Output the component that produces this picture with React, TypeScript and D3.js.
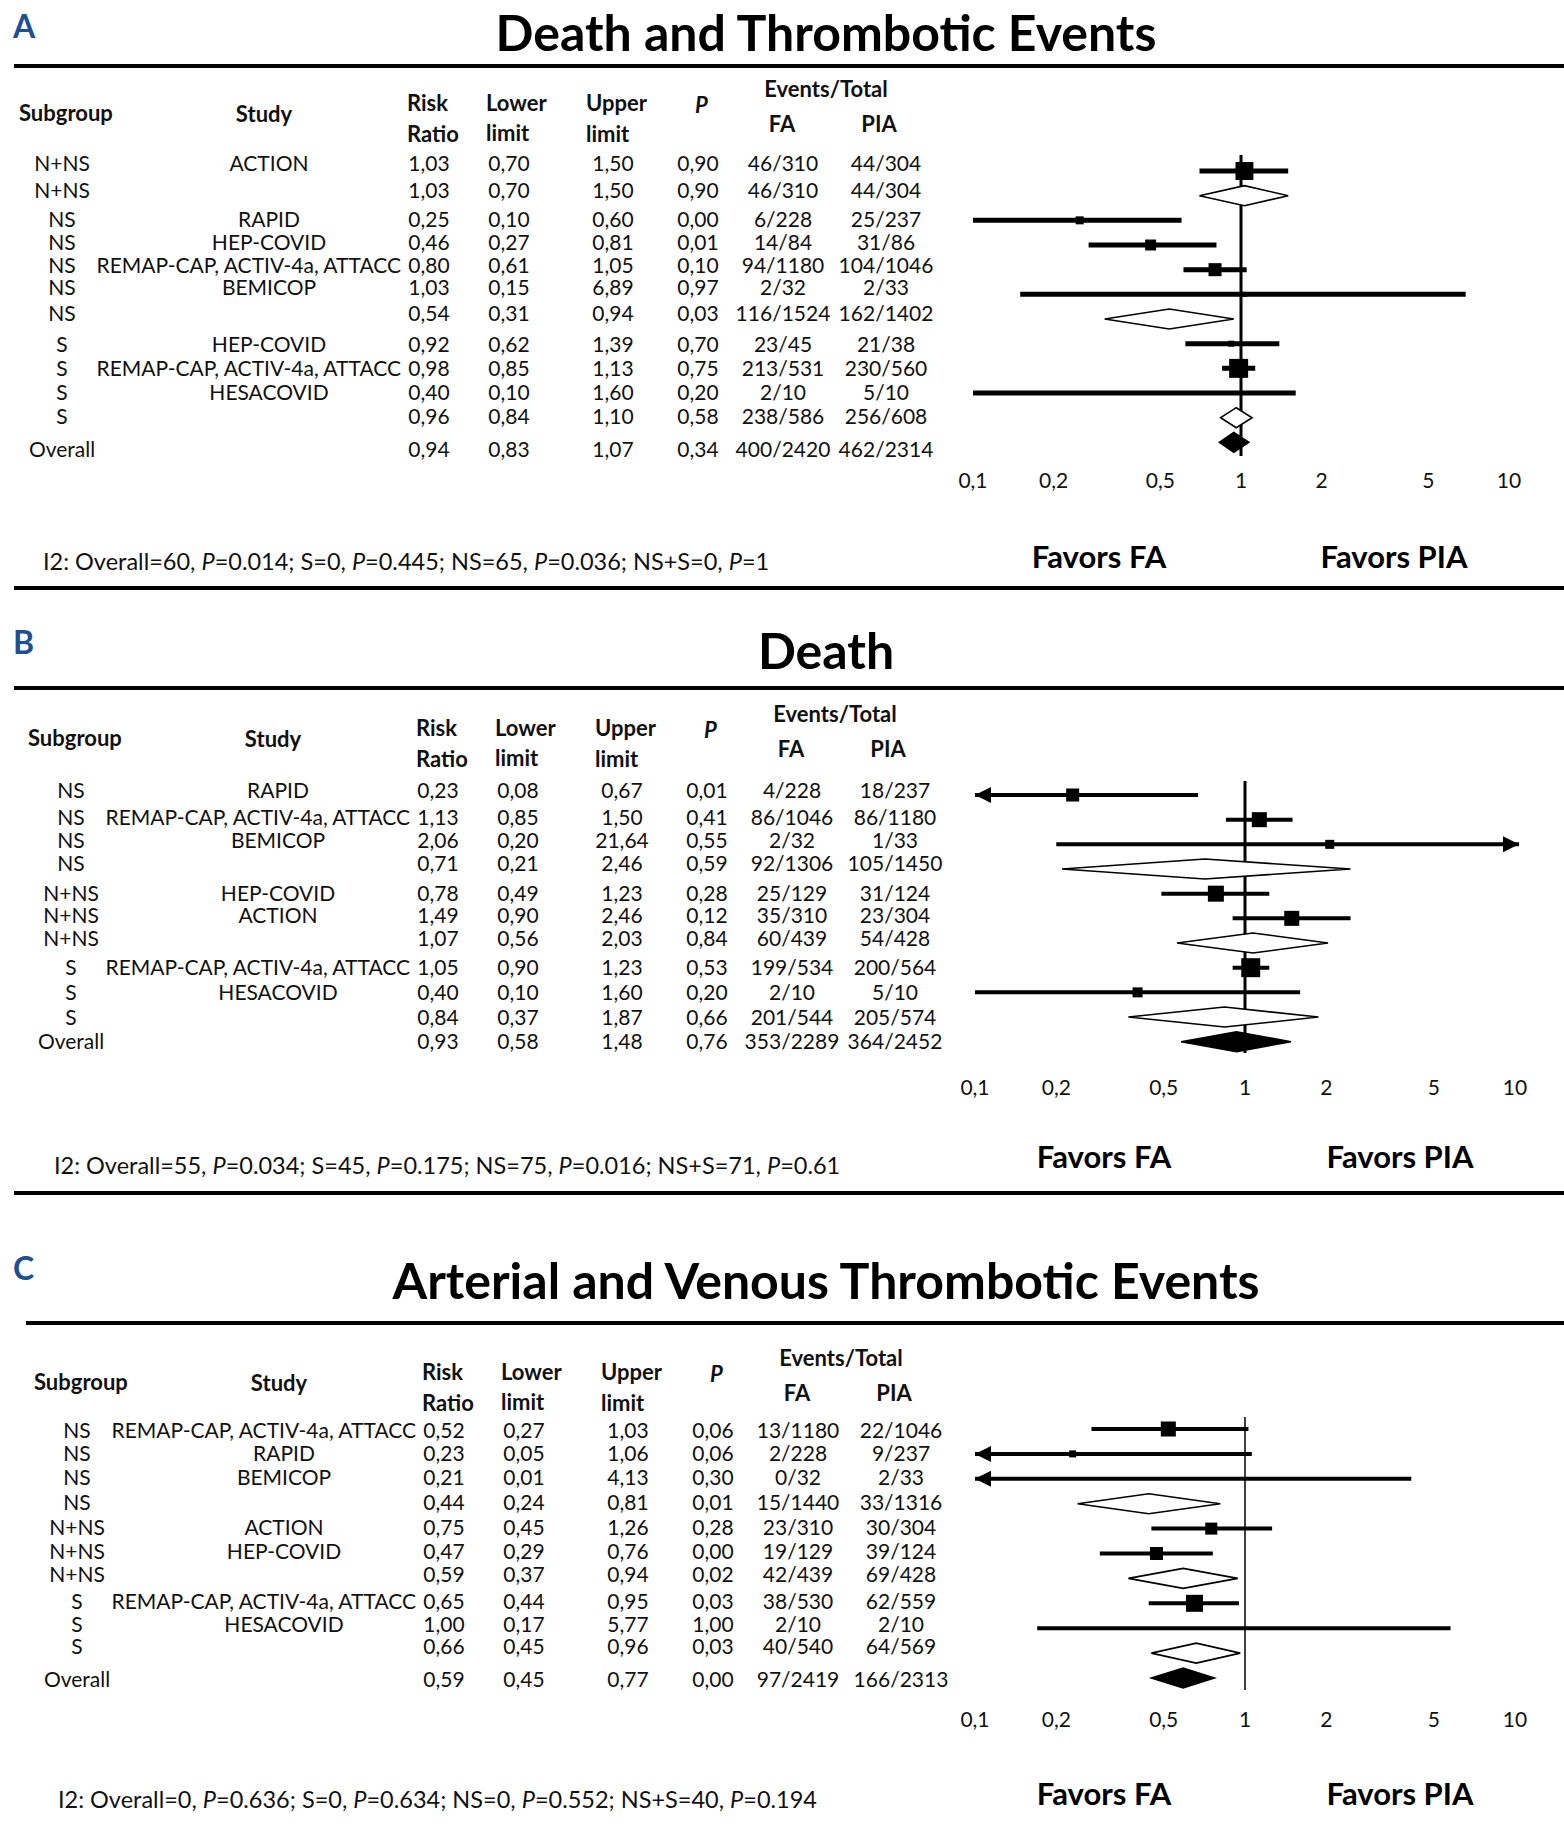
import React from 'react';
import * as d3 from 'd3';

// ---------- Panel A: Death and Thrombotic Events ----------
const subgroupsA = ['N+NS', 'N+NS', 'NS', 'NS', 'NS', 'NS', 'NS', 'S', 'S', 'S', 'S', 'Overall'];
const studiesA = ['ACTION', '', 'RAPID', 'HEP-COVID', 'REMAP-CAP, ACTIV-4a, ATTACC', 'BEMICOP', '', 'HEP-COVID', 'REMAP-CAP, ACTIV-4a, ATTACC', 'HESACOVID', '', ''];
const kindsA = ['study', 'subtotal', 'study', 'study', 'study', 'study', 'subtotal', 'study', 'study', 'study', 'subtotal', 'overall'];
const riskRatioA = [1.03, 1.03, 0.25, 0.46, 0.80, 1.03, 0.54, 0.92, 0.98, 0.40, 0.96, 0.94];
const lowerA = [0.70, 0.70, 0.10, 0.27, 0.61, 0.15, 0.31, 0.62, 0.85, 0.10, 0.84, 0.83];
const upperA = [1.50, 1.50, 0.60, 0.81, 1.05, 6.89, 0.94, 1.39, 1.13, 1.60, 1.10, 1.07];
const pValueA = [0.90, 0.90, 0.00, 0.01, 0.10, 0.97, 0.03, 0.70, 0.75, 0.20, 0.58, 0.34];
const eventsFaA = ['46/310', '46/310', '6/228', '14/84', '94/1180', '2/32', '116/1524', '23/45', '213/531', '2/10', '238/586', '400/2420'];
const eventsPiaA = ['44/304', '44/304', '25/237', '31/86', '104/1046', '2/33', '162/1402', '21/38', '230/560', '5/10', '256/608', '462/2314'];
const weightsA = [24, 0, 4.8, 9, 12.7, 1.9, 0, 2.7, 27, 1.2, 0, 0];
const footerA = 'I2: Overall=60, P=0.014; S=0, P=0.445; NS=65, P=0.036; NS+S=0, P=1';

// ---------- Panel B: Death ----------
const subgroupsB = ['NS', 'NS', 'NS', 'NS', 'N+NS', 'N+NS', 'N+NS', 'S', 'S', 'S', 'Overall'];
const studiesB = ['RAPID', 'REMAP-CAP, ACTIV-4a, ATTACC', 'BEMICOP', '', 'HEP-COVID', 'ACTION', '', 'REMAP-CAP, ACTIV-4a, ATTACC', 'HESACOVID', '', ''];
const kindsB = ['study', 'study', 'study', 'subtotal', 'study', 'study', 'subtotal', 'study', 'study', 'subtotal', 'overall'];
const riskRatioB = [0.23, 1.13, 2.06, 0.71, 0.78, 1.49, 1.07, 1.05, 0.40, 0.84, 0.93];
const lowerB = [0.08, 0.85, 0.20, 0.21, 0.49, 0.90, 0.56, 0.90, 0.10, 0.37, 0.58];
const upperB = [0.67, 1.50, 21.64, 2.46, 1.23, 2.46, 2.03, 1.23, 1.60, 1.87, 1.48];
const pValueB = [0.01, 0.41, 0.55, 0.59, 0.28, 0.12, 0.84, 0.53, 0.20, 0.66, 0.76];
const eventsFaB = ['4/228', '86/1046', '2/32', '92/1306', '25/129', '35/310', '60/439', '199/534', '2/10', '201/544', '353/2289'];
const eventsPiaB = ['18/237', '86/1180', '1/33', '105/1450', '31/124', '23/304', '54/428', '200/564', '5/10', '205/574', '364/2452'];
const weightsB = [12.7, 16.9, 6.1, 0, 19.2, 16.9, 0, 27, 7.5, 0, 0];
const footerB = 'I2: Overall=55, P=0.034; S=45, P=0.175; NS=75, P=0.016; NS+S=71, P=0.61';

// ---------- Panel C: Arterial and Venous Thrombotic Events ----------
const subgroupsC = ['NS', 'NS', 'NS', 'NS', 'N+NS', 'N+NS', 'N+NS', 'S', 'S', 'S', 'Overall'];
const studiesC = ['REMAP-CAP, ACTIV-4a, ATTACC', 'RAPID', 'BEMICOP', '', 'ACTION', 'HEP-COVID', '', 'REMAP-CAP, ACTIV-4a, ATTACC', 'HESACOVID', '', ''];
const kindsC = ['study', 'study', 'study', 'subtotal', 'study', 'study', 'subtotal', 'study', 'study', 'subtotal', 'overall'];
const riskRatioC = [0.52, 0.23, 0.21, 0.44, 0.75, 0.47, 0.59, 0.65, 1.00, 0.66, 0.59];
const lowerC = [0.27, 0.05, 0.01, 0.24, 0.45, 0.29, 0.37, 0.44, 0.17, 0.45, 0.45];
const upperC = [1.03, 1.06, 4.13, 0.81, 1.26, 0.76, 0.94, 0.95, 5.77, 0.96, 0.77];
const pValueC = [0.06, 0.06, 0.30, 0.01, 0.28, 0.00, 0.02, 0.03, 1.00, 0.03, 0.00];
const eventsFaC = ['13/1180', '2/228', '0/32', '15/1440', '23/310', '19/129', '42/439', '38/530', '2/10', '40/540', '97/2419'];
const eventsPiaC = ['22/1046', '9/237', '2/33', '33/1316', '30/304', '39/124', '69/428', '62/559', '2/10', '64/569', '166/2313'];
const weightsC = [16.9, 3.7, 0.3, 0, 10.8, 12.7, 0, 21.7, 0.3, 0, 0];
const footerC = 'I2: Overall=0, P=0.636; S=0, P=0.634; NS=0, P=0.552; NS+S=40, P=0.194';

const axisTicks = [0.1, 0.2, 0.5, 1, 2, 5, 10];

const W = 1564;
const H = 1824;
const FONT = "Lato, 'Open Sans', sans-serif";
const BLUE = '#1d4f91';
const INK = '#111';

const fmt = (v: number) => d3.format('.2f')(v).replace('.', ',');
const tickFmt = (v: number) => String(v).replace('.', ',');

type Layout = {
  letter: string; title: string; letterY: number; titleY: number; titleSize: number;
  ruleTop: number; ruleTopX0: number; ruleBottom: number | null;
  headerBase: number; shift: number; textY: number[];
  markerY0: number; markerStep: number; refLine: [number, number]; refWidth: number; ciWidth: number;
  x0: number; x1: number; axisY: number; footerX: number; footerY: number; favorsY: number;
  favorsFaX: number; favorsPiaX: number;
};

const layoutA: Layout = {
  letter: 'A', title: 'Death and Thrombotic Events', letterY: 25, titleY: 32, titleSize: 50,
  ruleTop: 66, ruleTopX0: 14, ruleBottom: 588, headerBase: 0, shift: 0,
  textY: [162, 189, 218, 241, 264, 286, 312, 343, 367, 391, 415, 448],
  markerY0: 171, markerStep: 24.67, refLine: [155, 456], refWidth: 3, ciWidth: 5,
  x0: 973, x1: 1509, axisY: 479, footerX: 43, footerY: 561, favorsY: 556,
  favorsFaX: 1099, favorsPiaX: 1394,
};
const layoutB: Layout = {
  letter: 'B', title: 'Death', letterY: 641, titleY: 650, titleSize: 50,
  ruleTop: 688, ruleTopX0: 14, ruleBottom: 1193, headerBase: 625, shift: 9,
  textY: [789, 816, 839, 862, 892, 914, 937, 966, 991, 1016, 1040],
  markerY0: 795, markerStep: 24.67, refLine: [781, 1053], refWidth: 3, ciWidth: 4,
  x0: 975, x1: 1515, axisY: 1086, footerX: 54, footerY: 1165, favorsY: 1156,
  favorsFaX: 1104, favorsPiaX: 1400,
};
const layoutC: Layout = {
  letter: 'C', title: 'Arterial and Venous Thrombotic Events', letterY: 1267, titleY: 1280, titleSize: 50,
  ruleTop: 1323, ruleTopX0: 26, ruleBottom: null, headerBase: 1269, shift: 15,
  textY: [1429, 1452, 1476, 1501, 1526, 1550, 1573, 1600, 1623, 1645, 1678],
  markerY0: 1429, markerStep: 24.9, refLine: [1417, 1690], refWidth: 1.5, ciWidth: 4,
  x0: 975, x1: 1515, axisY: 1718, footerX: 58, footerY: 1799, favorsY: 1793,
  favorsFaX: 1104, favorsPiaX: 1400,
};

type PanelData = {
  subgroups: string[]; studies: string[]; kinds: string[]; rr: number[]; lo: number[]; hi: number[];
  p: number[]; fa: string[]; pia: string[]; weights: number[]; footer: string;
};

const panelA: PanelData = { subgroups: subgroupsA, studies: studiesA, kinds: kindsA, rr: riskRatioA, lo: lowerA, hi: upperA, p: pValueA, fa: eventsFaA, pia: eventsPiaA, weights: weightsA, footer: footerA };
const panelB: PanelData = { subgroups: subgroupsB, studies: studiesB, kinds: kindsB, rr: riskRatioB, lo: lowerB, hi: upperB, p: pValueB, fa: eventsFaB, pia: eventsPiaB, weights: weightsB, footer: footerB };
const panelC: PanelData = { subgroups: subgroupsC, studies: studiesC, kinds: kindsC, rr: riskRatioC, lo: lowerC, hi: upperC, p: pValueC, fa: eventsFaC, pia: eventsPiaC, weights: weightsC, footer: footerC };

function Footer({ text, x, y }: { text: string; x: number; y: number }) {
  const parts = text.split(/(P(?==))/);
  return (
    <text x={x} y={y} fontSize={23.5} fill={INK} dominantBaseline="central">
      {parts.map((s, i) => (
        <tspan key={i} fontStyle={s === 'P' ? 'italic' : 'normal'}>{s}</tspan>
      ))}
    </text>
  );
}

function Panel({ d, L }: { d: PanelData; L: Layout }) {
  const x = d3.scaleLog().domain([0.1, 10]).range([L.x0, L.x1]);
  const box = d3.scaleSqrt().domain([0, 30]).range([0, 20]);
  const s = L.shift;
  const hb = L.headerBase;
  const col = { sub: 62 + s, study: 269 + s, rr: 429 + s, lo: 509 + s, up: 613 + s, p: 698 + s, fa: 783 + s, pia: 886 + s };
  const tsz = 21;
  const hsz = 22;
  const dh = 20;
  const [dmin, dmax] = x.domain();

  return (
    <g>
      <text x={13} y={L.letterY} fontSize={32} fontWeight="bold" fill={BLUE} dominantBaseline="central">{L.letter}</text>
      <text x={826} y={L.titleY} fontSize={L.titleSize} fontWeight="bold" fill="#000" textAnchor="middle" dominantBaseline="central">{L.title}</text>
      <line x1={L.ruleTopX0} x2={W} y1={L.ruleTop} y2={L.ruleTop} stroke="#000" strokeWidth={4} />
      {L.ruleBottom !== null && <line x1={14} x2={W} y1={L.ruleBottom} y2={L.ruleBottom} stroke="#000" strokeWidth={4} />}

      {/* header */}
      <g fontWeight="bold" fontSize={hsz} fill={INK} dominantBaseline="central">
        <text x={19 + s} y={hb + 112}>Subgroup</text>
        <text x={264 + s} y={hb + 113} textAnchor="middle">Study</text>
        <text x={407 + s} y={hb + 102}>Risk</text>
        <text x={407 + s} y={hb + 133}>Ratio</text>
        <text x={486 + s} y={hb + 102}>Lower</text>
        <text x={486 + s} y={hb + 132}>limit</text>
        <text x={586 + s} y={hb + 102}>Upper</text>
        <text x={586 + s} y={hb + 133}>limit</text>
        <text x={695 + s} y={hb + 104} fontStyle="italic">P</text>
        <text x={826 + s} y={hb + 88} textAnchor="middle">Events/Total</text>
        <text x={782 + s} y={hb + 123} textAnchor="middle">FA</text>
        <text x={879 + s} y={hb + 123} textAnchor="middle">PIA</text>
      </g>

      {/* table rows */}
      <g fontSize={tsz} fill={INK} dominantBaseline="central">
        {d.subgroups.map((sg, i) => {
          const y = L.textY[i];
          const st = d.studies[i];
          const longName = st.length > 20;
          return (
            <g key={i}>
              <text x={col.sub} y={y} textAnchor="middle">{sg}</text>
              {st && <text x={longName ? col.rr - 28 : col.study} y={y} textAnchor={longName ? 'end' : 'middle'}>{st}</text>}
              <text x={col.rr} y={y} textAnchor="middle">{fmt(d.rr[i])}</text>
              <text x={col.lo} y={y} textAnchor="middle">{fmt(d.lo[i])}</text>
              <text x={col.up} y={y} textAnchor="middle">{fmt(d.hi[i])}</text>
              <text x={col.p} y={y} textAnchor="middle">{fmt(d.p[i])}</text>
              <text x={col.fa} y={y} textAnchor="middle">{d.fa[i]}</text>
              <text x={col.pia} y={y} textAnchor="middle">{d.pia[i]}</text>
            </g>
          );
        })}
      </g>

      {/* reference line */}
      <line x1={x(1)} x2={x(1)} y1={L.refLine[0]} y2={L.refLine[1]} stroke="#000" strokeWidth={L.refWidth} />

      {/* markers */}
      {d.rr.map((rr, i) => {
        const y = L.markerY0 + L.markerStep * i;
        const kind = d.kinds[i];
        if (kind !== 'study') {
          const pts = [[x(d.lo[i]), y], [x(rr), y - dh / 2], [x(d.hi[i]), y], [x(rr), y + dh / 2]];
          return (
            <polygon key={i} points={pts.map((q) => q.join(',')).join(' ')}
              fill={kind === 'overall' ? '#000' : '#fff'} stroke="#000" strokeWidth={1.6} />
          );
        }
        const lo = Math.max(d.lo[i], dmin);
        const hi = Math.min(d.hi[i], dmax);
        const xl = x(lo);
        const xr = d.hi[i] > dmax ? x(dmax) + 4 : x(hi);
        const sz = box(d.weights[i]);
        const ah = 16;
        return (
          <g key={i}>
            <line x1={xl} x2={xr} y1={y} y2={y} stroke="#000" strokeWidth={L.ciWidth} />
            {d.lo[i] < dmin && <polygon points={`${xl},${y} ${xl + ah},${y - 8} ${xl + ah},${y + 8}`} fill="#000" />}
            {d.hi[i] > dmax && <polygon points={`${xr},${y} ${xr - ah},${y - 8} ${xr - ah},${y + 8}`} fill="#000" />}
            {sz > 0 && <rect x={x(rr) - sz / 2} y={y - sz / 2} width={sz} height={sz} fill="#000" />}
          </g>
        );
      })}

      {/* axis labels */}
      <g fontSize={tsz} fill={INK} textAnchor="middle" dominantBaseline="central">
        {axisTicks.map((t) => (
          <text key={t} x={x(t)} y={L.axisY}>{tickFmt(t)}</text>
        ))}
      </g>

      <Footer text={d.footer} x={L.footerX} y={L.footerY} />
      <text x={L.favorsFaX} y={L.favorsY} fontSize={31} fontWeight="bold" fill="#000" textAnchor="middle" dominantBaseline="central">Favors FA</text>
      <text x={L.favorsPiaX} y={L.favorsY} fontSize={31} fontWeight="bold" fill="#000" textAnchor="middle" dominantBaseline="central">Favors PIA</text>
    </g>
  );
}

export default function App() {
  return (
    <svg width={W} height={H} viewBox={`0 0 ${W} ${H}`}
      style={{ position: 'absolute', left: 0, top: 0, background: '#fff' }} fontFamily={FONT}>
      <rect x={0} y={0} width={W} height={H} fill="#fff" />
      <Panel d={panelA} L={layoutA} />
      <Panel d={panelB} L={layoutB} />
      <Panel d={panelC} L={layoutC} />
    </svg>
  );
}
